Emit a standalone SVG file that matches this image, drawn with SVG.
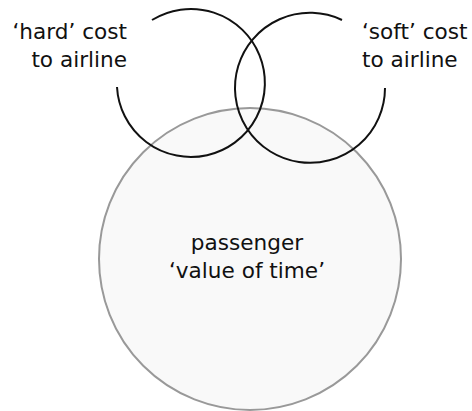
<svg xmlns="http://www.w3.org/2000/svg" width="472" height="411" viewBox="0 0 472 411">
  <style>
    .lbl { font-family: "DejaVu Sans", Verdana, sans-serif; font-size: 21.6px; fill: #111; }
    .arc { fill: none; stroke: #111; stroke-width: 2; }
    .pax { fill: #f9f9f9; stroke: #999; stroke-width: 2; }
  </style>
  <rect width="472" height="411" fill="#fff"/>

  <g id="passenger-value">
    <circle class="pax" cx="250" cy="259" r="151"/>
    <text class="lbl" x="247" y="250" text-anchor="middle">passenger</text>
    <text class="lbl" x="247" y="278" text-anchor="middle">‘value of time’</text>
  </g>

  <g id="hard-cost">
    <path class="arc" d="M117,87 A74,74 0 1 0 152,20"/>
    <text class="lbl" x="127" y="39" text-anchor="end">‘hard’ cost</text>
    <text class="lbl" x="127" y="67" text-anchor="end">to airline</text>
  </g>

  <g id="soft-cost">
    <path class="arc" d="M342,20 A75,75 0 1 0 385,88"/>
    <text class="lbl" x="362" y="39">‘soft’ cost</text>
    <text class="lbl" x="362" y="67">to airline</text>
  </g>
</svg>
